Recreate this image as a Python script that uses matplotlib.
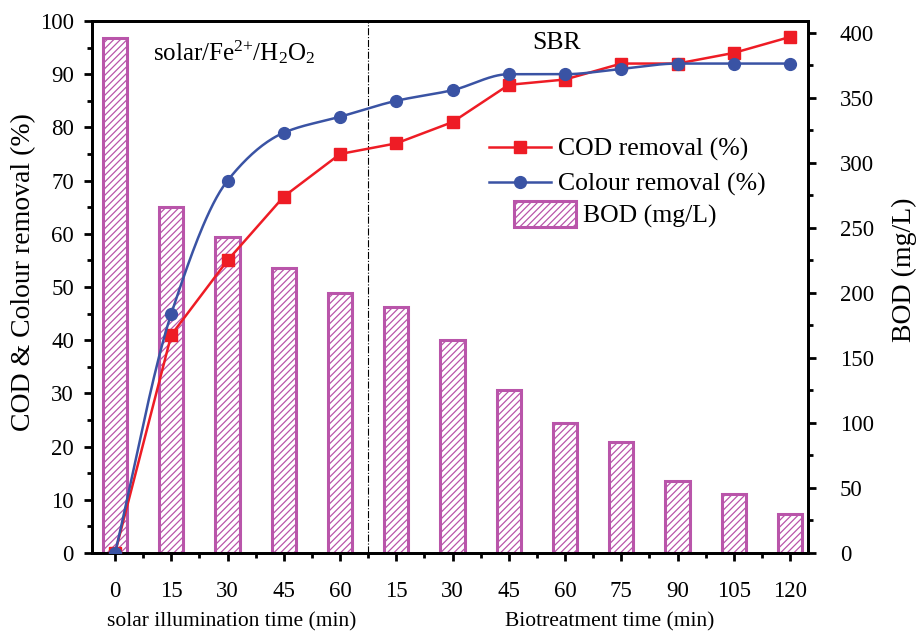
import numpy as np
import matplotlib
matplotlib.use("Agg")
import matplotlib.pyplot as plt
from matplotlib.patches import Patch
from matplotlib.lines import Line2D

# ---------------- data ----------------
tick_labels = ["0", "15", "30", "45", "60", "15", "30", "45", "60", "75", "90", "105", "120"]
cod_removal = [0, 41, 55, 67, 75, 77, 81, 88, 89, 92, 92, 94, 97]
colour_removal = [0, 45, 70, 79, 82, 85, 87, 90, 90, 91, 92, 92, 92]
bod = [396, 266, 243, 219, 200, 189, 164, 125, 100, 85, 55, 45, 30]

RED = "#EE1C25"
BLUE = "#3A53A4"
MAG = "#B955AA"

plt.rcParams["font.family"] = ["Liberation Serif", "DejaVu Serif"]
plt.rcParams["mathtext.fontset"] = "custom"
plt.rcParams["mathtext.rm"] = "Liberation Serif"
plt.rcParams["mathtext.it"] = "Liberation Serif:italic"
plt.rcParams["hatch.linewidth"] = 0.9


def pchip(x, y, xn):
    x = np.asarray(x, float); y = np.asarray(y, float)
    h = np.diff(x); d = np.diff(y) / h
    n = len(x); m = np.zeros(n)
    for k in range(1, n - 1):
        if d[k - 1] * d[k] > 0:
            w1 = 2 * h[k] + h[k - 1]; w2 = h[k] + 2 * h[k - 1]
            m[k] = (w1 + w2) / (w1 / d[k - 1] + w2 / d[k])
    m[0] = d[0]; m[-1] = d[-1]
    out = np.empty_like(xn)
    for i, xv in enumerate(xn):
        k = min(np.searchsorted(x, xv, side="right") - 1, n - 2)
        k = max(k, 0)
        t = (xv - x[k]) / h[k]
        h00 = 2 * t**3 - 3 * t**2 + 1; h10 = t**3 - 2 * t**2 + t
        h01 = -2 * t**3 + 3 * t**2; h11 = t**3 - t**2
        out[i] = h00 * y[k] + h10 * h[k] * m[k] + h01 * y[k + 1] + h11 * h[k] * m[k + 1]
    return out


x = np.arange(len(tick_labels))

fig = plt.figure(figsize=(9.19, 6.33), dpi=100)
ax = fig.add_axes([92 / 919, 1 - 553 / 633, (808 - 92) / 919, (553 - 21) / 633])
ax2 = ax.twinx()

# bars on right axis
ax2.bar(x, bod, width=0.43, facecolor="white", edgecolor=MAG, linewidth=2.2,
        hatch="/////", zorder=2)
ax2.set_ylim(0, 409)

# lines on left axis (drawn above)
ax.set_zorder(ax2.get_zorder() + 1)
ax.patch.set_visible(False)

ax.plot(x, cod_removal, color=RED, lw=1.8, marker="s", ms=8, zorder=4)
xs = np.linspace(0, x[-1], 400)
ax.plot(xs, pchip(x, colour_removal, xs), color=BLUE, lw=1.8, zorder=4)
ax.plot(x, colour_removal, ls="none", color=BLUE, marker="o", ms=8.5, zorder=5)

ax.axvline(4.5, color="black", lw=0.8, ls="-.", zorder=3)

ax.set_xlim(-0.41, 12.32)
ax.set_ylim(0, 100)
ax.set_xticks(x)
ax.set_xticklabels(tick_labels)
ax.set_xticks(x[:-1] + 0.5, minor=True)
ax.set_yticks(np.arange(0, 101, 10))
ax.set_yticks(np.arange(5, 100, 10), minor=True)
ax2.set_yticks(np.arange(0, 401, 50))
ax2.set_yticks(np.arange(25, 400, 50), minor=True)

for a in (ax, ax2):
    for s in a.spines.values():
        s.set_linewidth(2.0)
ax.tick_params(axis="both", which="major", direction="out", length=6, width=2, labelsize=16.5)
ax.tick_params(axis="both", which="minor", direction="out", length=3.5, width=2)
ax.tick_params(axis="x", which="major", pad=14)
ax.tick_params(axis="y", which="major", pad=7)
ax2.tick_params(axis="y", which="major", direction="out", length=6, width=2, labelsize=16.5, pad=17)
ax2.tick_params(axis="y", which="minor", direction="out", length=3.5, width=2)

fig.text(24 / 919, 1 - 272 / 633, "COD & Colour removal (%)", fontsize=20,
         rotation=90, ha="center", va="center")
fig.text(904 / 919, 1 - 270 / 633, "BOD (mg/L)", fontsize=20,
         rotation=90, ha="center", va="center")

fig.text(232 / 919, 1 - 622 / 633, "solar illumination time (min)", fontsize=15.5,
         ha="center", va="center")
fig.text(610 / 919, 1 - 622 / 633, "Biotreatment time (min)", fontsize=15.5,
         ha="center", va="center")

ax.text(153 / 919, 1 - 52 / 633, r"solar/Fe$^{2\text{+}}$/H$_2$O$_2$", transform=fig.transFigure,
        fontsize=18, ha="left", va="center")
ax.text(557 / 919, 1 - 43 / 633, "SBR", transform=fig.transFigure,
        fontsize=18.5, ha="center", va="center")

h1 = Line2D([], [], color=RED, lw=1.8, marker="s", ms=8)
h2 = Line2D([], [], color=BLUE, lw=1.8, marker="o", ms=8.5)
leg1 = ax.legend([h1, h2], ["COD removal (%)", "Colour removal (%)"],
                 loc="upper left", bbox_to_anchor=(489 / 919, 1 - 138 / 633),
                 bbox_transform=fig.transFigure, frameon=False, fontsize=18.5,
                 handlelength=2.4, handletextpad=0.3, labelspacing=0.45,
                 borderaxespad=0, borderpad=0)
ax.add_artist(leg1)
h3 = Patch(facecolor="white", edgecolor=MAG, linewidth=2.2, hatch="/////")
ax.legend([h3], ["BOD (mg/L)"], loc="upper left",
          bbox_to_anchor=(514 / 919, 1 - 201 / 633), bbox_transform=fig.transFigure,
          frameon=False, fontsize=18.5, handlelength=2.4, handleheight=1.2,
          handletextpad=0.3, borderaxespad=0, borderpad=0)

fig.savefig("out.png", dpi=100)
